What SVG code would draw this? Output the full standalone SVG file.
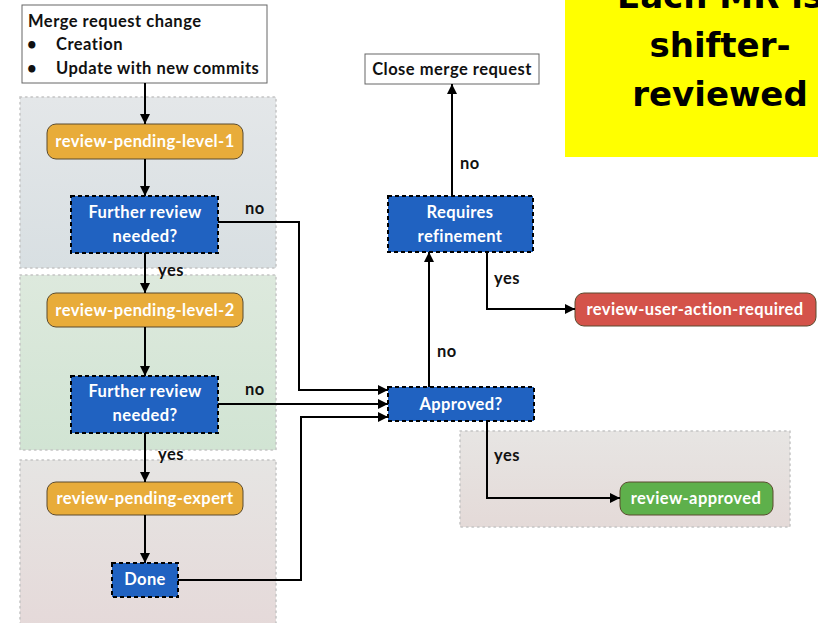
<svg xmlns="http://www.w3.org/2000/svg" width="818" height="623" viewBox="0 0 818 623">
<defs>
<marker id="ah" markerWidth="10" markerHeight="10" viewBox="0 0 10 10" refX="10" refY="5" orient="auto" markerUnits="userSpaceOnUse"><path d="M0,0 L10,5 L0,10 z" fill="#000"/></marker>
<linearGradient id="g1" x1="0" y1="0" x2="0" y2="1"><stop offset="0" stop-color="#e4e7e9"/><stop offset="1" stop-color="#d8dfe2"/></linearGradient>
<linearGradient id="g2" x1="0" y1="0" x2="0" y2="1"><stop offset="0" stop-color="#dde9dd"/><stop offset="1" stop-color="#d1e4d3"/></linearGradient>
<linearGradient id="g3" x1="0" y1="0" x2="0" y2="1"><stop offset="0" stop-color="#e6e5e3"/><stop offset="1" stop-color="#e5d9d9"/></linearGradient>
<linearGradient id="g4" x1="0" y1="0" x2="0" y2="1"><stop offset="0" stop-color="#e7e5e3"/><stop offset="1" stop-color="#e4dad8"/></linearGradient>
</defs>
<style>
.band{stroke:#c4c4c4;stroke-width:1.5;stroke-dasharray:1.5 4;stroke-linecap:round}
.state{stroke:#5a4a2e;stroke-width:1}
.orange{fill:#e8ac3a}
.red{fill:#d4534a}
.green{fill:#5eb04b}
.dec{fill:#2062c1;stroke:#000;stroke-width:2;stroke-dasharray:4 3}
.wt{fill:#fff;font-family:Lato,"Open Sans",sans-serif;font-size:16.5px;font-weight:bold;letter-spacing:0.4px;text-anchor:middle}
.bt{fill:#111;font-family:Lato,"Open Sans",sans-serif;font-size:16.5px;font-weight:bold;letter-spacing:0.5px}
.conn path{fill:none;stroke:#000;stroke-width:2}
.box{fill:#fff;stroke:#666;stroke-width:1}
</style>
<rect width="818" height="623" fill="#fff"/>
<g id="bands">
<rect class="band" x="20" y="97" width="256" height="171" fill="url(#g1)"/>
<rect class="band" x="20" y="275" width="256" height="175" fill="url(#g2)"/>
<rect class="band" x="20" y="460" width="256" height="170" fill="url(#g3)"/>
<rect class="band" x="460" y="431" width="330" height="96" fill="url(#g4)"/>
</g>
<g id="note">
<rect x="565" y="-2" width="260" height="159" fill="#ffff00"/>
<text font-family="'Comic Sans MS','DejaVu Sans',sans-serif" font-weight="bold" font-size="34" text-anchor="middle" fill="#000"><tspan x="720" y="8">Each MR is</tspan><tspan x="720" y="57">shifter-</tspan><tspan x="720" y="106">reviewed</tspan></text>
</g>
<g id="start">
<rect class="box" x="22" y="5" width="245" height="78"/>
<text class="bt" x="28" y="27">Merge request change</text>
<text class="bt" x="27" y="50">•</text><text class="bt" x="56" y="50">Creation</text>
<text class="bt" x="27" y="74">•</text><text class="bt" x="56" y="74">Update with new commits</text>
</g>
<g id="rpl1"><rect class="state orange" x="47" y="124" width="196" height="35" rx="9"/><text class="wt" x="145" y="147">review-pending-level-1</text></g>
<g id="frn1"><rect class="dec" x="71" y="196" width="147" height="57"/><text class="wt" x="145" y="218">Further review</text><text class="wt" x="145" y="242">needed?</text></g>
<g id="rpl2"><rect class="state orange" x="47" y="293" width="196" height="34" rx="9"/><text class="wt" x="145" y="316">review-pending-level-2</text></g>
<g id="frn2"><rect class="dec" x="71" y="376" width="147" height="57"/><text class="wt" x="145" y="397">Further review</text><text class="wt" x="145" y="421">needed?</text></g>
<g id="rpe"><rect class="state orange" x="47" y="482" width="196" height="33" rx="9"/><text class="wt" x="145" y="504">review-pending-expert</text></g>
<g id="done"><rect class="dec" x="112" y="563" width="66" height="34"/><text class="wt" x="145" y="585">Done</text></g>
<g id="approved"><rect class="dec" x="388" y="387" width="146" height="34"/><text class="wt" x="461" y="410">Approved?</text></g>
<g id="refine"><rect class="dec" x="388" y="196" width="145" height="56"/><text class="wt" x="460" y="218">Requires</text><text class="wt" x="460" y="242">refinement</text></g>
<g id="close"><rect class="box" x="365" y="54" width="174" height="30"/><text class="bt" x="452" y="75" text-anchor="middle">Close merge request</text></g>
<g id="ruar"><rect class="state red" x="575" y="293" width="241" height="33" rx="9"/><text class="wt" x="695" y="315">review-user-action-required</text></g>
<g id="ra"><rect class="state green" x="620" y="482" width="153" height="33" rx="9"/><text class="wt" x="696" y="504">review-approved</text></g>
<g id="connectors" class="conn">
<path d="M145,83 V124" marker-end="url(#ah)"/>
<path d="M145,159 V196" marker-end="url(#ah)"/>
<path d="M145,253 V293" marker-end="url(#ah)"/>
<path d="M145,327 V376" marker-end="url(#ah)"/>
<path d="M145,433 V482" marker-end="url(#ah)"/>
<path d="M145,515 V563" marker-end="url(#ah)"/>
<path d="M218,222 H299 V390 H388" marker-end="url(#ah)"/>
<path d="M218,404 H388" marker-end="url(#ah)"/>
<path d="M178,580 H301 V417 H388" marker-end="url(#ah)"/>
<path d="M429,387 V252" marker-end="url(#ah)"/>
<path d="M452,196 V84" marker-end="url(#ah)"/>
<path d="M487,252 V309 H575" marker-end="url(#ah)"/>
<path d="M487,421 V498 H620" marker-end="url(#ah)"/>
<text class="bt" x="245" y="214">no</text>
<text class="bt" x="158" y="276">yes</text>
<text class="bt" x="245" y="395">no</text>
<text class="bt" x="158" y="460">yes</text>
<text class="bt" x="437" y="357">no</text>
<text class="bt" x="460" y="169">no</text>
<text class="bt" x="494" y="284">yes</text>
<text class="bt" x="494" y="461">yes</text>
</g>
</svg>
